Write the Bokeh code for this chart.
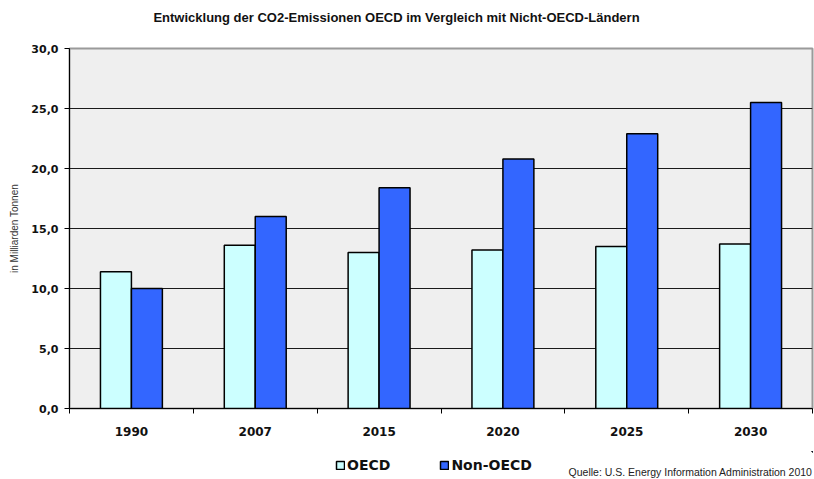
from bokeh.plotting import figure
from bokeh.models import (ColumnDataSource, Range1d, FixedTicker, Legend, LegendItem, Label)
from bokeh.layouts import column
from bokeh.embed import file_html
from bokeh.resources import INLINE

# ---- data ----
years = ["1990", "2007", "2015", "2020", "2025", "2030"]
oecd = [11.4, 13.6, 13.0, 13.2, 13.5, 13.7]
non_oecd = [10.0, 16.0, 18.4, 20.8, 22.9, 25.5]
y_ticks = [0, 5, 10, 15, 20, 25, 30]
series_names = ["OECD", "Non-OECD"]
title_text = "Entwicklung der CO2-Emissionen OECD im Vergleich mit Nicht-OECD-Ländern"
y_label = "in Milliarden Tonnen"
source_text = "Quelle: U.S. Energy Information Administration 2010"

idx = list(range(len(years)))
centers = [i + 0.5 for i in idx]
src = ColumnDataSource(dict(
    x_oecd=[c - 0.125 for c in centers],
    x_non=[c + 0.125 for c in centers],
    oecd=oecd, non=non_oecd))

W = 814
H_TOP, H_MAIN, H_BOT = 34, 417, 28
LEFT, RIGHT = 69, 2          # frame borders (column aligns all frames)
FW = W - LEFT - RIGHT
OECD_COLOR, NON_COLOR = "#ccffff", "#3366ff"


def strip(height):
    f = figure(width=W, height=height, output_backend="svg", toolbar_location=None,
               x_axis_type=None, y_axis_type=None,
               x_range=Range1d(0, FW), y_range=Range1d(0, height),
               min_border_left=LEFT, min_border_right=RIGHT,
               min_border_top=0, min_border_bottom=0,
               outline_line_color=None, background_fill_color="white",
               border_fill_color="white")
    f.xgrid.visible = False
    f.ygrid.visible = False
    return f


# ---- title strip ----
pt = strip(H_TOP)
pt.add_layout(Label(x=396 - LEFT, y=17, x_units="screen", y_units="screen", text=title_text,
                    text_align="center", text_baseline="middle",
                    text_font="Liberation Sans", text_font_style="bold",
                    text_font_size="13px", text_color="#111111"))

# ---- main chart ----
p = figure(width=W, height=H_MAIN, output_backend="svg", toolbar_location=None,
           x_range=Range1d(0, len(years)), y_range=Range1d(0, 30),
           min_border_left=LEFT, min_border_right=RIGHT, min_border_top=48 - H_TOP,
           min_border_bottom=H_TOP + H_MAIN - 408,
           background_fill_color="#efefef", border_fill_color="white",
           outline_line_color="#9a9a9a", outline_line_width=2)

r1 = p.vbar(x="x_oecd", top="oecd", width=0.25, source=src,
            fill_color=OECD_COLOR, line_color="black", line_width=1.5)
r2 = p.vbar(x="x_non", top="non", width=0.25, source=src,
            fill_color=NON_COLOR, line_color="black", line_width=1.5)

p.xgrid.visible = False
p.ygrid.ticker = FixedTicker(ticks=y_ticks[1:-1])
p.ygrid.grid_line_color = "#1a1a1a"
p.ygrid.grid_line_width = 1

p.xaxis.ticker = FixedTicker(ticks=centers, minor_ticks=[float(i) for i in range(len(years) + 1)])
p.xaxis.major_label_overrides = {c: y for c, y in zip(centers, years)}
p.xaxis.major_tick_line_color = None
p.xaxis.major_tick_out = 0
p.xaxis.major_tick_in = 0
p.xaxis.minor_tick_line_color = "black"
p.xaxis.minor_tick_out = 5
p.xaxis.minor_tick_in = 0
p.xaxis.axis_line_color = "black"
p.xaxis.major_label_standoff = 13
p.xaxis.major_label_text_font = "DejaVu Sans"
p.xaxis.major_label_text_font_style = "bold"
p.xaxis.major_label_text_font_size = "12px"
p.xaxis.major_label_text_color = "#111111"

p.yaxis.ticker = FixedTicker(ticks=y_ticks, minor_ticks=[])
p.yaxis.major_label_overrides = {t: f"{t:.1f}".replace(".", ",") for t in y_ticks}
p.yaxis.major_tick_out = 5
p.yaxis.major_tick_in = 0
p.yaxis.major_tick_line_color = "black"
p.yaxis.axis_line_color = "black"
p.yaxis.major_label_standoff = 6
p.yaxis.major_label_text_font = "DejaVu Sans"
p.yaxis.major_label_text_font_style = "bold"
p.yaxis.major_label_text_font_size = "11px"
p.yaxis.major_label_text_color = "#111111"
p.yaxis.axis_label = y_label
p.yaxis.axis_label_text_font = "Liberation Sans"
p.yaxis.axis_label_text_font_style = "normal"
p.yaxis.axis_label_text_font_size = "10px"
p.yaxis.axis_label_text_color = "#333333"
p.yaxis.axis_label_standoff = 8

# ---- legend / source strip ----
pb = strip(H_BOT)
pb.extra_x_ranges = {"offx": Range1d(-100, -90)}
pb.extra_y_ranges = {"offy": Range1d(-100, -90)}
# legend proxies: same bar styling, positioned outside the strip's visible ranges
lb1 = pb.vbar(x="x_oecd", top="oecd", bottom=0, width=0.25, source=src,
              fill_color=OECD_COLOR, line_color="black", line_width=1.5,
              x_range_name="offx", y_range_name="offy")
lb2 = pb.vbar(x="x_non", top="non", bottom=0, width=0.25, source=src,
              fill_color=NON_COLOR, line_color="black", line_width=1.5,
              x_range_name="offx", y_range_name="offy")
legend = Legend(items=[LegendItem(label=series_names[0], renderers=[lb1]),
                       LegendItem(label=series_names[1], renderers=[lb2])],
                orientation="horizontal", location=(335 - LEFT, 6),
                glyph_width=10, glyph_height=10, label_standoff=2, spacing=49,
                padding=0, margin=0, border_line_color=None, background_fill_alpha=0,
                label_text_font="DejaVu Sans", label_text_font_style="bold",
                label_text_font_size="14px", label_text_color="#111111")
pb.add_layout(legend, "center")
pb.add_layout(Label(x=FW, y=8, x_units="screen", y_units="screen", text=source_text,
                    text_align="right", text_baseline="middle",
                    text_font="Liberation Sans", text_font_size="10.5px",
                    text_color="#222222"))

layout = column(pt, p, pb, spacing=0)
open("out.html", "w").write(file_html(layout, INLINE))
